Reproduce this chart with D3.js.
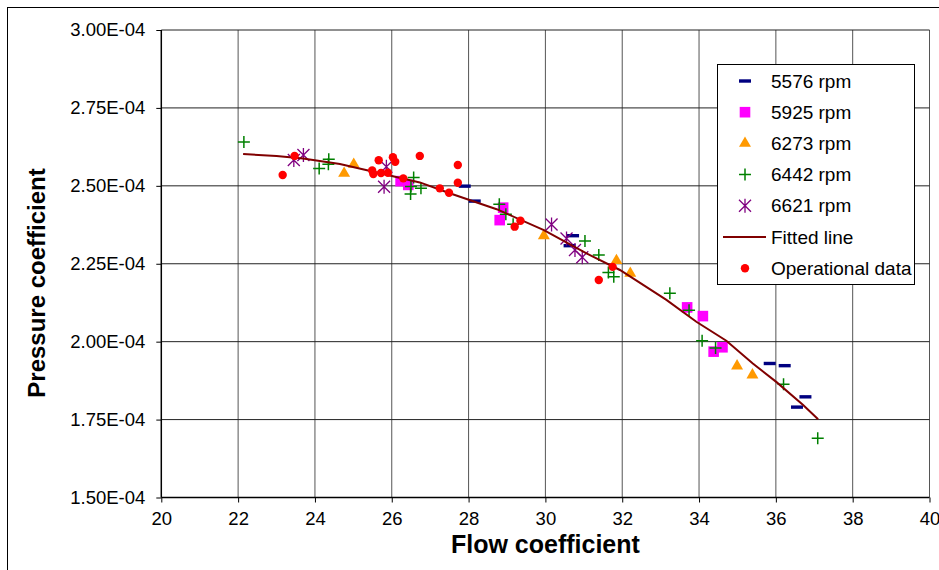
<!DOCTYPE html>
<html>
<head>
<meta charset="utf-8">
<script src="https://cdn.jsdelivr.net/npm/d3@7"></script>
<style>
  body { margin: 0; background: #fff; }
  text { font-family: Arial, "Liberation Sans", sans-serif; }
</style>
</head>
<body>
<svg id="chart"></svg>
<script>
  // flow coefficient / pressure coefficient readings, one list per speed
  var rpm5576 = [[27.90, 2.499e-4], [28.16, 2.451e-4], [30.72, 2.340e-4], [30.63, 2.308e-4],
    [35.84, 1.930e-4], [36.23, 1.923e-4], [36.77, 1.823e-4], [36.55, 1.790e-4]];
  var rpm5925 = [[26.23, 2.515e-4], [26.43, 2.503e-4], [28.90, 2.430e-4], [28.81, 2.390e-4],
    [33.69, 2.110e-4], [34.10, 2.082e-4], [34.38, 1.968e-4], [34.61, 1.982e-4]];
  var rpm6273 = [[24.76, 2.540e-4], [25.01, 2.569e-4], [29.96, 2.340e-4], [31.85, 2.260e-4],
    [32.21, 2.219e-4], [34.99, 1.922e-4], [35.39, 1.893e-4]];
  var rpm6442 = [[22.15, 2.641e-4], [24.36, 2.585e-4], [24.11, 2.556e-4], [24.35, 2.569e-4],
    [26.57, 2.527e-4], [26.50, 2.498e-4], [26.49, 2.474e-4], [26.76, 2.492e-4],
    [28.80, 2.441e-4], [28.97, 2.409e-4], [29.16, 2.377e-4], [31.03, 2.323e-4],
    [31.39, 2.278e-4], [31.64, 2.222e-4], [31.78, 2.208e-4], [33.24, 2.155e-4],
    [33.74, 2.101e-4], [34.08, 2.003e-4], [34.43, 1.980e-4], [36.20, 1.863e-4], [37.09, 1.690e-4]];
  var rpm6621 = [[23.45, 2.583e-4], [23.70, 2.599e-4], [25.86, 2.561e-4], [25.80, 2.497e-4],
    [30.16, 2.376e-4], [30.55, 2.331e-4], [30.77, 2.294e-4], [30.96, 2.271e-4]];
  var fittedLine = [[22.13, 2.602e-4], [23.00, 2.596e-4], [23.69, 2.588e-4], [24.65, 2.570e-4],
    [25.78, 2.538e-4], [26.73, 2.511e-4], [27.51, 2.476e-4], [28.73, 2.425e-4],
    [29.96, 2.358e-4], [31.07, 2.283e-4], [31.94, 2.230e-4], [33.15, 2.134e-4],
    [33.93, 2.064e-4], [34.71, 2.003e-4], [35.40, 1.930e-4], [36.01, 1.871e-4],
    [36.71, 1.797e-4], [37.10, 1.751e-4]];
  var operational = [[23.16, 2.535e-4], [23.47, 2.596e-4], [25.66, 2.582e-4], [25.49, 2.549e-4],
    [25.52, 2.538e-4], [25.72, 2.541e-4], [25.90, 2.542e-4], [26.03, 2.592e-4],
    [26.09, 2.577e-4], [26.73, 2.596e-4], [26.30, 2.524e-4], [27.25, 2.492e-4],
    [27.49, 2.478e-4], [27.72, 2.567e-4], [27.72, 2.510e-4], [29.35, 2.388e-4],
    [29.20, 2.369e-4], [31.39, 2.198e-4], [31.75, 2.240e-4]];

  var xTicks = [20, 22, 24, 26, 28, 30, 32, 34, 36, 38, 40];
  var yTicks = [1.50e-4, 1.75e-4, 2.00e-4, 2.25e-4, 2.50e-4, 2.75e-4, 3.00e-4];
  var legendLabels = ["5576 rpm", "5925 rpm", "6273 rpm", "6442 rpm", "6621 rpm", "Fitted line", "Operational data"];

  var width = 939;
  var height = 570;
  var plotL = 161.3, plotR = 929.5, plotT = 30, plotB = 497.5;

  var x = d3.scaleLinear().domain([20, 40]).range([plotL, plotR]);
  var y = d3.scaleLinear().domain([1.5e-4, 3.0e-4]).range([plotB, plotT]);

  function fmtE(v) {
    // 2.50E-04 style
    return (v * 1e4).toFixed(2) + "E-04";
  }

  var svg = d3.select("#chart").attr("width", width).attr("height", height);

  // chart area frame
  svg.append("rect")
    .attr("x", 7.5).attr("y", 7.5)
    .attr("width", 945).attr("height", 575)
    .attr("fill", "#fff").attr("stroke", "#000").attr("stroke-width", 1);

  // gridlines
  svg.append("g").selectAll("line")
    .data(xTicks.slice(1))
    .enter().append("line")
    .attr("x1", function(d) { return x(d); })
    .attr("x2", function(d) { return x(d); })
    .attr("y1", plotT).attr("y2", plotB)
    .attr("stroke", "#555").attr("stroke-width", 1);

  svg.append("g").selectAll("line")
    .data(yTicks.slice(1))
    .enter().append("line")
    .attr("x1", plotL).attr("x2", plotR)
    .attr("y1", function(d) { return y(d); })
    .attr("y2", function(d) { return y(d); })
    .attr("stroke", "#222").attr("stroke-width", 1);

  // axes
  var xAxis = d3.axisBottom(x).tickValues(xTicks).tickSize(5).tickPadding(9).tickFormat(d3.format("d"));
  var yAxis = d3.axisLeft(y).tickValues(yTicks).tickSize(5).tickPadding(11).tickFormat(fmtE);

  var gx = svg.append("g").attr("transform", "translate(0," + plotB + ")").call(xAxis);
  var gy = svg.append("g").attr("transform", "translate(" + plotL + ",0)").call(yAxis);

  [gx, gy].forEach(function(g) {
    g.select(".domain").attr("stroke", "#000").attr("stroke-width", 1.5);
    g.selectAll(".tick line").attr("stroke", "#000");
    g.selectAll(".tick text").attr("fill", "#000").style("font-size", "18.5px");
  });
  gy.select(".domain").attr("d", "M0," + plotB + "V" + plotT);
  gx.select(".domain").attr("d", "M" + plotL + ",0H" + plotR);

  // axis titles
  svg.append("text")
    .attr("x", (plotL + plotR) / 2).attr("y", 553)
    .attr("text-anchor", "middle")
    .style("font-size", "25px").style("font-weight", "bold")
    .text("Flow coefficient");

  svg.append("text")
    .attr("transform", "translate(45,283) rotate(-90)")
    .attr("text-anchor", "middle")
    .style("font-size", "24px").style("font-weight", "bold")
    .text("Pressure coefficient");

  // marker drawers
  function drawDash(g) {
    g.append("rect").attr("x", -6).attr("y", -1.7).attr("width", 12).attr("height", 3.4).attr("fill", "#000080");
  }
  function drawSquare(g) {
    g.append("rect").attr("x", -5.3).attr("y", -5.3).attr("width", 10.6).attr("height", 10.6).attr("fill", "#ff00ff");
  }
  function drawTriangle(g) {
    g.append("path").attr("d", d3.symbol().type(d3.symbolTriangle).size(62)).attr("fill", "#ff9900");
  }
  function drawPlus(g) {
    g.append("path").attr("d", "M-6,0H6M0,-6V6").attr("stroke", "#008000").attr("stroke-width", 1.5).attr("fill", "none");
  }
  function drawStar(g) {
    g.append("path").attr("d", "M-6,-6L6,6M-6,6L6,-6M0,-7V7").attr("stroke", "#800080").attr("stroke-width", 1.3).attr("fill", "none");
  }
  function drawDot(g) {
    g.append("circle").attr("r", 4.2).attr("fill", "#ff0000");
  }

  var plot = svg.append("g");

  function scatter(data, drawer) {
    plot.append("g").selectAll("g")
      .data(data)
      .enter().append("g")
      .attr("transform", function(d) { return "translate(" + x(d[0]) + "," + y(d[1]) + ")"; })
      .each(function() { drawer(d3.select(this)); });
  }

  scatter(rpm5576, drawDash);
  scatter(rpm5925, drawSquare);
  scatter(rpm6273, drawTriangle);
  scatter(rpm6442, drawPlus);
  scatter(rpm6621, drawStar);

  var line = d3.line()
    .x(function(d) { return x(d[0]); })
    .y(function(d) { return y(d[1]); });

  plot.append("path")
    .datum(fittedLine)
    .attr("d", line)
    .attr("fill", "none")
    .attr("stroke", "#800000")
    .attr("stroke-width", 2);

  scatter(operational, drawDot);

  // legend
  var legend = svg.append("g");
  legend.append("rect")
    .attr("x", 717.5).attr("y", 64.5)
    .attr("width", 197).attr("height", 220)
    .attr("fill", "#fff").attr("stroke", "#000").attr("stroke-width", 1);

  var drawers = [drawDash, drawSquare, drawTriangle, drawPlus, drawStar, null, drawDot];

  legendLabels.forEach(function(label, i) {
    var cy = 81 + i * 31.2;
    var item = legend.append("g").attr("transform", "translate(745," + cy + ")");
    if (drawers[i]) {
      drawers[i](item);
    } else {
      item.append("line").attr("x1", -22).attr("x2", 21).attr("y1", 0).attr("y2", 0)
        .attr("stroke", "#800000").attr("stroke-width", 2);
    }
    legend.append("text")
      .attr("x", 771).attr("y", cy)
      .attr("dy", "0.35em")
      .style("font-size", "19px")
      .text(label);
  });
</script>
</body>
</html>
